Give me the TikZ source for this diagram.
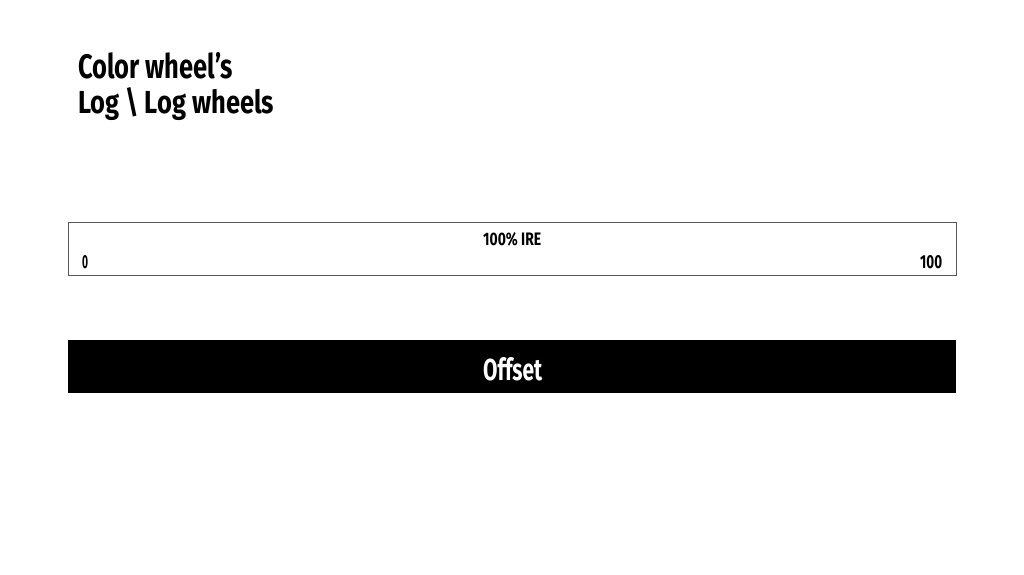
\documentclass[tikz,border=0pt]{standalone}
\usepackage{fontspec}
\setmainfont{Fira Sans}
\usepackage{graphicx}
\newcommand{\fitt}[3]{\resizebox{#1pt}{#2pt}{#3}}
\begin{document}
\begin{tikzpicture}[x=1pt,y=-1pt,
  txt/.style={inner sep=0pt,anchor=base west},
  frame/.style={draw=black!65,line width=1pt},
  bar/.style={fill=black,draw=none}]
\useasboundingbox (0,0) rectangle (1024,574);
\node[txt] (t1) at (78,78) {\fitt{155}{26}{\bfseries Color wheel’s}};
\node[txt] (t2) at (78,113) {\fitt{196}{26}{\bfseries Log \textbackslash{} Log wheels}};
\draw[frame] (68,222) rectangle (956,275);
\node[txt] (ire) at (483,245) {\fitt{58}{13}{\bfseries 100\% IRE}};
\node[txt] (zero) at (82,268) {\fitt{6}{13}{\bfseries 0}};
\node[txt] (hund) at (920,268) {\fitt{22}{13}{\bfseries 100}};
\fill[bar] (68,340) rectangle (956,393);
\node[txt,text=white] (off) at (483,380) {\fitt{59}{23}{\bfseries Offset}};
\end{tikzpicture}
\end{document}
